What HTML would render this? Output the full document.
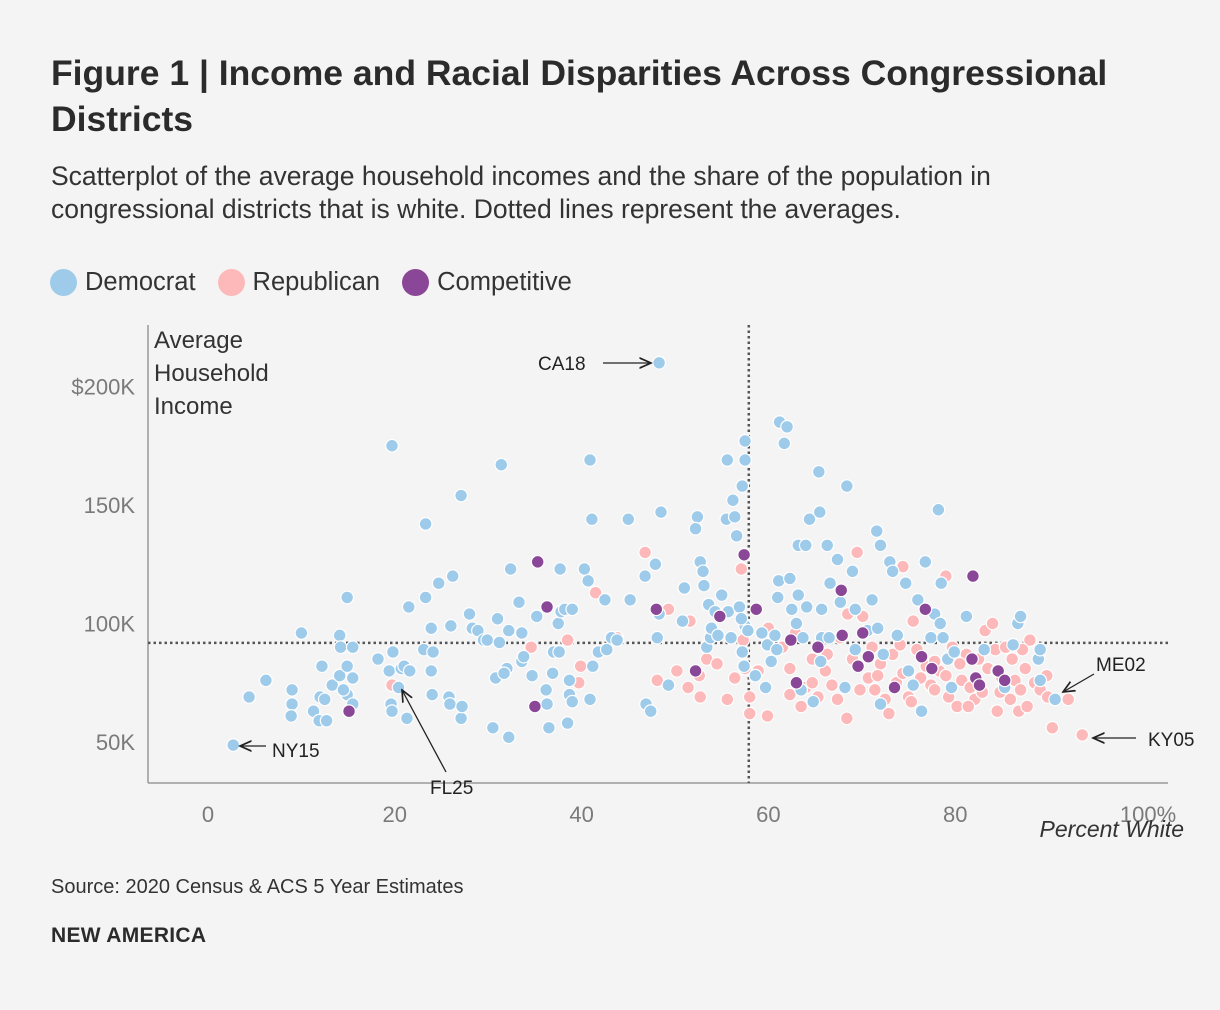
<!DOCTYPE html>
<html><head><meta charset="utf-8">
<style>
html,body{margin:0;padding:0;background:#f4f4f4;}
body{width:1220px;height:1010px;position:relative;overflow:hidden;font-family:"Liberation Sans",sans-serif;color:#2b2b2b;}
.abs{position:absolute;}
</style></head>
<body>
<div class="abs" style="left:51px;top:50px;width:1110px;font-size:35.5px;font-weight:bold;line-height:46px;color:#2b2b2b;">Figure 1 | Income and Racial Disparities Across Congressional Districts</div>
<div class="abs" style="left:51px;top:160px;width:1095px;font-size:26.5px;line-height:33px;color:#333;">Scatterplot of the average household incomes and the share of the population in congressional districts that is white. Dotted lines represent the averages.</div>
<div class="abs" style="left:50px;top:268px;font-size:25.5px;display:flex;align-items:center;color:#333;">
 <span style="display:flex;align-items:center;margin-right:22px;"><span style="width:27px;height:27px;border-radius:50%;background:#9fcbeb;display:inline-block;margin-right:8px;"></span>Democrat</span>
 <span style="display:flex;align-items:center;margin-right:22px;"><span style="width:27px;height:27px;border-radius:50%;background:#fdb9b9;display:inline-block;margin-right:8px;"></span>Republican</span>
 <span style="display:flex;align-items:center;"><span style="width:27px;height:27px;border-radius:50%;background:#8a4797;display:inline-block;margin-right:8px;"></span>Competitive</span>
</div>
<svg class="abs" style="left:0;top:0" width="1220" height="1010">
 <g id="axes"></g>
 <g id="marks"></g>
 <g id="annot"></g>
</svg>
<div class="abs" style="left:51px;top:876px;font-size:20px;color:#333;">Source: 2020 Census &amp; ACS 5 Year Estimates</div>
<div class="abs" style="left:51px;top:924px;font-size:21px;font-weight:bold;color:#2b2b2b;letter-spacing:0.3px;">NEW AMERICA</div>
<script>
const demX=[2.7,4.4,6.2,9,10,9,8.9,11.3,12,12.2,11.9,12.7,12.5,13.3,14.1,14.2,14.1,14.9,14.9,15.5,15.5,14.9,15.5,14.5,18.2,19.7,19.4,19.8,19.6,19.7,20.4,20.7,21,21.6,21.3,21.5,23.1,23.3,23.3,23.9,23.9,24,24.1,24.7,25.8,25.9,26.2,26,27.1,27.1,27.2,28,28.3,28.9,29.5,29.9,30.5,30.8,31.4,31,31.2,32,31.7,32.2,32.2,32.4,33.3,33.6,33.6,33.8,34.7,35.2,36.2,36.3,36.5,36.9,37,37.5,37.7,37.6,37.8,38.2,38.5,38.7,38.7,39,39,40.3,40.7,40.9,41.1,40.9,41.2,41.8,42.5,42.7,43.2,43.8,45,45.2,46.8,46.9,47.4,47.9,48.1,48.5,48.3,49.3,48.3,51,50.8,52.4,52.2,52.7,53,53.1,53.6,53.4,53.8,53.9,54.3,54.6,55,55.6,55.5,55.7,56,56.2,56.4,56.6,57.2,57.5,57.5,56.9,57.5,57.1,57.8,57.2,57.4,58.6,59.3,59.9,59.7,60.3,60.9,61,61.1,60.7,61.2,61.7,62,62.3,62.5,63.2,63,63.2,63.5,63.7,64,64.1,64.4,64.8,65.4,65.5,65.7,65.7,65.6,66.3,66.6,66.5,67.4,67.7,68.2,68.4,69,69.3,69.3,70.6,71.1,71.6,72,71.7,72.3,72,73,73.3,73.8,74.7,75,75.5,76,76.4,76.8,77.4,77.8,78.2,78.5,78.4,78.7,79.2,79.6,79.9,81.2,83.1,84.5,85.3,86.2,86.7,87,88.9,89.1,89.1,90.7];
const demY=[48.7,69,76,72,96,66,61,63,69,82,59,59,68,74,95,90,78,82,111,90,77,70,66,72,85,175,80,88,66,63,73,81,82,80,60,107,89,111,142,98,80,70,88,117,69,66,120,99,154,60,65,104,98,97,93,93,56,77,167,102,92,81,79,52,97,123,109,96,84,86,78,103,72,66,56,79,88,100,123,88,105,106,58,70,76,67,106,123,118,169,144,68,82,88,110,89,94,93,144,110,120,66,63,125,94,147,210,74,104,115,101,145,140,126,122,116,108,90,94,98,105,95,112,169,144,105,94,152,145,137,158,169,177,107,99,102,97,88,82,78,96,91,73,84,89,111,118,95,185,176,183,119,106,112,100,133,72,94,133,107,144,67,164,147,106,94,84,133,117,94,127,109,73,158,122,106,89,97,110,139,133,98,87,66,126,122,95,117,80,74,110,63,126,94,104,148,117,100,94,85,73,88,103,89,80,73,91,100,103,85,89,76,68];
const repX=[19.7,34.6,38.5,39.7,39.9,41.5,43.8,46.8,48.1,49.3,50.2,51.4,51.6,52.6,52.7,53.4,54.5,55.6,56.4,57.1,57.3,57.5,58,58,58.9,59.9,60,61.5,62.3,62.3,62.9,63.5,64,64.7,64.7,65.3,66.1,66.3,66.8,67.4,67.7,68.4,68.5,69,69.5,69.8,70.1,70.7,71.1,71.4,72,72.5,72.9,73.3,73.7,74.1,74.4,74.4,75,75.3,75.5,75.9,76.3,76.9,77.4,77.8,78.3,79,79,79.3,79.7,80.2,80.7,81.2,81.6,82.1,82.5,82.9,83.2,83.5,84,84.3,84.5,85,85.4,85.9,86.4,86.8,87,87.5,87.7,88,88.5,89.1,89.8,89.9,90.4,92.1,93.6,80.5,84.8,86.1,87.2,81.4,77.8,71.7];
const repY=[74,90,93,75,82,113,94,130,76,106,80,73,101,78,69,85,83,68,77,123,93,81,69,62,80,61,98,90,81,70,96,65,73,85,75,69,80,87,74,68,94,60,104,85,130,72,103,77,90,72,83,68,62,87,75,91,124,79,69,67,101,89,77,82,74,72,80,120,78,69,90,65,76,87,73,68,85,71,97,81,100,89,63,77,90,68,76,63,72,81,65,93,75,72,78,69,56,68,53,83,71,85,89,65,84,78];
const compX=[15.1,35,35.3,36.3,48,52.2,54.8,57.4,58.7,62.4,63,65.3,67.8,67.9,69.6,70.1,70.7,73.5,76.4,76.8,77.5,81.9,81.8,82.2,82.6,84.6,85.3];
const compY=[63,65,126,107,106,80,103,129,106,93,75,90,114,95,82,96,86,73,86,106,81,120,85,77,74,80,76];
const xTicks=[0,20,40,60,80,100];
const xTickLabels=["0","20","40","60","80","100%"];
const yTicks=[50,100,150,200];
const yTickLabels=["50K","100K","150K","$200K"];
const avgX=57.9, avgY=91.8;

const NS="http://www.w3.org/2000/svg";
const xs=v=>208+v*9.34;
const ys=v=>742-(v-50)*2.37;
function mk(tag,attrs,parent,text){const e=document.createElementNS(NS,tag);for(const k in attrs)e.setAttribute(k,attrs[k]);if(text!==undefined)e.textContent=text;parent.appendChild(e);return e;}
const axes=document.getElementById('axes'),marks=document.getElementById('marks'),annot=document.getElementById('annot');
let l=mk('line',{x1:148,y1:325,x2:148,y2:783,stroke:'#9a9a9a','stroke-width':1.5},axes);


l=mk('line',{x1:148,y1:783,x2:1168,y2:783,stroke:'#9a9a9a','stroke-width':1.5},axes);


xTicks.forEach((t,i)=>{const e=mk('text',{x:xs(t)+(i==5?6:0),y:822,'text-anchor':'middle','font-size':22,fill:'#7a7a7a','font-family':'Liberation Sans, sans-serif'},axes,xTickLabels[i]);

});
yTicks.forEach((t,i)=>{const e=mk('text',{x:135,y:ys(t)+8,'text-anchor':'end','font-size':22,fill:'#7a7a7a','font-family':'Liberation Sans, sans-serif'},axes,yTickLabels[i]);

});
["Average","Household","Income"].forEach((s,i)=>{const e=mk('text',{x:154,y:348+i*33,'font-size':24,fill:'#333','font-family':'Liberation Sans, sans-serif'},axes,s);

});
let xt=mk('text',{x:1184,y:837,'text-anchor':'end','font-size':23,'font-style':'italic',fill:'#333','font-family':'Liberation Sans, sans-serif'},axes,'Percent White');


l=mk('line',{x1:xs(avgX),y1:325,x2:xs(avgX),y2:783,stroke:'#555','stroke-width':2.5,'stroke-dasharray':'2.5,3'},axes);


l=mk('line',{x1:148,y1:ys(avgY),x2:1168,y2:ys(avgY),stroke:'#555','stroke-width':2.5,'stroke-dasharray':'2.5,3'},axes);


function series(X,Y,col,name){X.forEach((x,i)=>{const c=mk('circle',{cx:xs(x),cy:ys(Y[i]),r:6.3,fill:col,stroke:'#fff','stroke-width':1.2},marks);

});}
series(repX,repY,'#fdb9b9','republican-district-point');
series(demX,demY,'#9fcbeb','democrat-district-point');
series(compX,compY,'#8a4797','competitive-district-point');
mk('defs',{},annot).innerHTML='<marker id="ah" markerWidth="10" markerHeight="10" refX="9" refY="5" orient="auto"><path d="M0,1 L9,5 L0,9" fill="none" stroke="#222" stroke-width="1.3"/></marker>';
function ann(name,tx,ty,anchor,x1,y1,x2,y2){const g=mk('g',{},annot);


mk('text',{x:tx,y:ty,'text-anchor':anchor,'font-size':19,fill:'#222','font-family':'Liberation Sans, sans-serif'},g,name.split('-')[0].toUpperCase());
mk('line',{x1:x1,y1:y1,x2:x2,y2:y2,stroke:'#222','stroke-width':1.3,'marker-end':'url(#ah)'},g);}
ann('ca18-annotation',538,370,'start',603,363,651,363);
ann('ny15-annotation',272,757,'start',266,746,240,746);
ann('fl25-annotation',430,794,'start',446,772,402,690);
ann('me02-annotation',1096,671,'start',1094,674,1063,692);
ann('ky05-annotation',1148,746,'start',1136,738,1093,738);
</script>
</body></html>
